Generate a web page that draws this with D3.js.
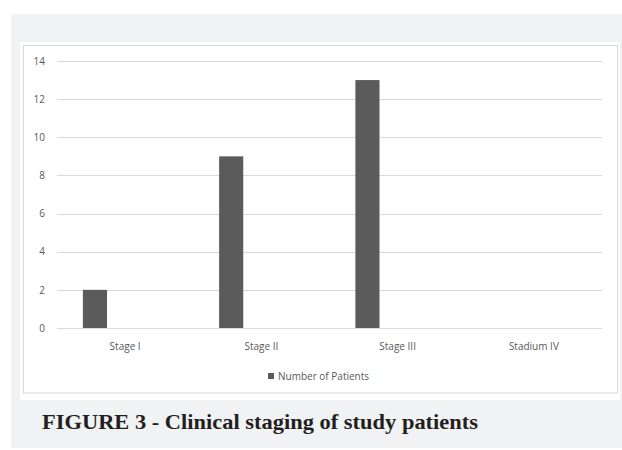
<!DOCTYPE html>
<html>
<head>
<meta charset="utf-8">
<script src="https://cdn.jsdelivr.net/npm/d3@7"></script>
<style>
  html, body { margin: 0; padding: 0; background: #ffffff; }
  svg { display: block; }
</style>
</head>
<body>
<svg id="chart" width="622" height="450"></svg>
<script>
const categories = ["Stage I", "Stage II", "Stage III", "Stadium IV"];
const patients = [2, 9, 13, 0];
const seriesName = "Number of Patients";
const yTicks = [0, 2, 4, 6, 8, 10, 12, 14];
const caption = "FIGURE 3 - Clinical staging of study patients";

const svg = d3.select("#chart");

// panel backgrounds
svg.append("rect").attr("x", 11).attr("y", 14).attr("width", 611).attr("height", 434).attr("fill", "#f1f2f4");
svg.append("rect").attr("x", 20).attr("y", 42).attr("width", 600).attr("height", 358).attr("fill", "#ffffff");
svg.append("rect").attr("x", 23.5).attr("y", 45.5).attr("width", 594).attr("height", 347.5)
  .attr("fill", "#ffffff").attr("stroke", "#d9d9d9").attr("stroke-width", 1);

const plot = { left: 57, right: 602, top: 61, bottom: 328 };

const x = d3.scaleBand().domain(categories).range([plot.left, plot.right]).padding(0);
const y = d3.scaleLinear().domain([0, 14]).range([plot.bottom, plot.top]);

// gridlines
svg.append("g").selectAll("line").data(yTicks.filter(t => t > 0)).join("line")
  .attr("x1", plot.left).attr("x2", plot.right)
  .attr("y1", d => Math.round(y(d)) + 0.5).attr("y2", d => Math.round(y(d)) + 0.5)
  .attr("stroke", "#d9d9d9").attr("stroke-width", 1);

// y axis labels
const yAxis = d3.axisLeft(y).tickValues(yTicks).tickSize(0).tickPadding(0);
const yg = svg.append("g").attr("transform", `translate(45,0)`).call(yAxis);
yg.select(".domain").remove();
yg.selectAll("text").attr("font-family", "'Open Sans', 'Liberation Sans', sans-serif")
  .attr("font-size", 10).attr("fill", "#595959");

// bars
const barOffset = 0.19, barWidth = 0.177;
svg.append("g").selectAll("rect").data(categories.map((c, i) => ({ c, v: patients[i] })).filter(d => d.v > 0)).join("rect")
  .attr("x", d => x(d.c) + x.bandwidth() * barOffset)
  .attr("width", x.bandwidth() * barWidth)
  .attr("y", d => y(d.v))
  .attr("height", d => y(0) - y(d.v))
  .attr("fill", "#5b5b5b");

// x axis line
svg.append("line").attr("x1", plot.left).attr("x2", plot.right)
  .attr("y1", plot.bottom + 0.5).attr("y2", plot.bottom + 0.5)
  .attr("stroke", "#d9d9d9").attr("stroke-width", 1);

// x axis labels
const xAxis = d3.axisBottom(x).tickSize(0).tickPadding(0);
const xg = svg.append("g").attr("transform", `translate(0,${plot.bottom + 18})`).call(xAxis);
xg.select(".domain").remove();
xg.selectAll("text").attr("font-family", "'Open Sans', 'Liberation Sans', sans-serif")
  .attr("font-size", 10).attr("fill", "#595959").attr("dy", "0.35em").attr("y", 0);

// legend
const lg = svg.append("g").attr("transform", "translate(268,376)");
lg.append("rect").attr("x", 0).attr("y", -3).attr("width", 6).attr("height", 6).attr("fill", "#5b5b5b");
lg.append("text").attr("x", 10).attr("y", 0).attr("dy", "0.35em")
  .attr("font-family", "'Open Sans', 'Liberation Sans', sans-serif").attr("font-size", 10)
  .attr("fill", "#595959").text(seriesName);

// caption
svg.append("text").attr("x", 42).attr("y", 428.5)
  .attr("font-family", "'Liberation Serif', 'DejaVu Serif', serif").attr("font-weight", "bold")
  .attr("font-size", 21.5).attr("fill", "#231f20")
  .attr("textLength", 436).attr("lengthAdjust", "spacingAndGlyphs").text(caption);
</script>
</body>
</html>
